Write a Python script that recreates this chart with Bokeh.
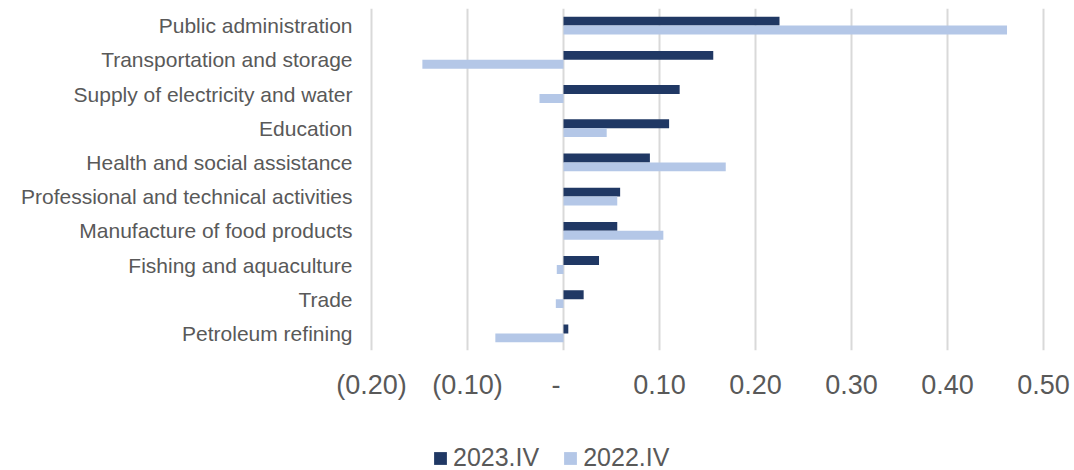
from bokeh.plotting import figure
from bokeh.layouts import column
from bokeh.models import (FactorRange, Range1d, FixedTicker, CustomJSTickFormatter,
                          Legend, LegendItem)
from bokeh.transform import dodge
from bokeh.embed import file_html
from bokeh.resources import INLINE

# Sector contributions, top to bottom as shown
sectors = [
    "Public administration",
    "Transportation and storage",
    "Supply of electricity and water",
    "Education",
    "Health and social assistance",
    "Professional and technical activities",
    "Manufacture of food products",
    "Fishing and aquaculture",
    "Trade",
    "Petroleum refining",
]
values_2023 = [0.225, 0.156, 0.121, 0.110, 0.090, 0.059, 0.056, 0.037, 0.021, 0.005]
values_2022 = [0.462, -0.147, -0.025, 0.045, 0.169, 0.056, 0.104, -0.007, -0.008, -0.071]
series_names = ["2023.IV", "2022.IV"]
x_ticks = [-0.2, -0.1, 0.0, 0.1, 0.2, 0.3, 0.4, 0.5]

DARK = "#203864"
LIGHT = "#B4C7E7"
TEXT = "#595959"
GRID = "#D9D9D9"

src = dict(cat=sectors, v2023=values_2023, v2022=values_2022)

pad = 2 / 960
p = figure(
    width=1074, height=420,
    y_range=FactorRange(factors=list(reversed(sectors)), range_padding=0),
    x_range=Range1d(x_ticks[0] - pad, x_ticks[-1] + pad),
    output_backend="svg", toolbar_location=None,
    min_border_left=369, min_border_right=29,
    min_border_top=8, min_border_bottom=70,
)
p.outline_line_color = None
p.background_fill_color = "white"
p.border_fill_color = "white"

p.hbar(y=dodge("cat", 0.13, range=p.y_range), left=0, right="v2023",
       height=0.26, color=DARK, line_color=None, source=src)
p.hbar(y=dodge("cat", -0.13, range=p.y_range), left=0, right="v2022",
       height=0.26, color=LIGHT, line_color=None, source=src)

# x axis: accounting-style labels
p.xaxis.ticker = FixedTicker(ticks=x_ticks)
p.xaxis.formatter = CustomJSTickFormatter(code="""
    const v = Math.round(tick * 100) / 100;
    if (Math.abs(v) < 1e-9) return "-\u2007";
    if (v < 0) return "(" + (-v).toFixed(2) + ")";
    return v.toFixed(2);
""")
p.xaxis.axis_line_color = None
p.xaxis.major_tick_line_color = None
p.xaxis.minor_tick_line_color = None
p.xaxis.major_label_text_font = "Liberation Sans"
p.xaxis.major_label_text_font_size = "27px"
p.xaxis.major_label_text_color = TEXT
p.xaxis.major_label_standoff = 13

p.yaxis.axis_line_color = None
p.yaxis.major_tick_line_color = None
p.yaxis.minor_tick_line_color = None
p.yaxis.major_label_text_font = "Liberation Sans"
p.yaxis.major_label_text_font_size = "21px"
p.yaxis.major_label_text_color = TEXT
p.yaxis.major_label_standoff = 11

p.xgrid.grid_line_color = GRID
p.xgrid.grid_line_width = 2
p.ygrid.grid_line_color = None

# legend strip under the chart; its series renderers stay hidden and only
# supply the swatches
lg = figure(
    width=1074, height=50, x_range=Range1d(0, 1),
    y_range=FactorRange(factors=sectors),
    x_axis_type=None, y_axis_type=None,
    output_backend="svg", toolbar_location=None,
    min_border=0, min_border_left=0, min_border_right=0,
    min_border_top=0, min_border_bottom=0,
)
lg.outline_line_color = None
lg.grid.visible = False
k1 = lg.hbar(y="cat", left=0, right="v2023", height=0.26, color=DARK,
             line_color=None, source=src, visible=False)
k2 = lg.hbar(y="cat", left=0, right="v2022", height=0.26, color=LIGHT,
             line_color=None, source=src, visible=False)

legend = Legend(
    items=[LegendItem(label=series_names[0], renderers=[k1]),
           LegendItem(label=series_names[1], renderers=[k2])],
    orientation="horizontal",
    location=(63, -2),
    padding=0, margin=0, spacing=23,
    glyph_width=16, glyph_height=16, label_standoff=5,
    label_text_font="Liberation Sans", label_text_font_size="25px",
    label_text_color=TEXT,
    border_line_color=None, background_fill_alpha=0,
)
lg.add_layout(legend, "center")

layout = column(p, lg, spacing=0)
open("out.html", "w").write(file_html(layout, INLINE))
